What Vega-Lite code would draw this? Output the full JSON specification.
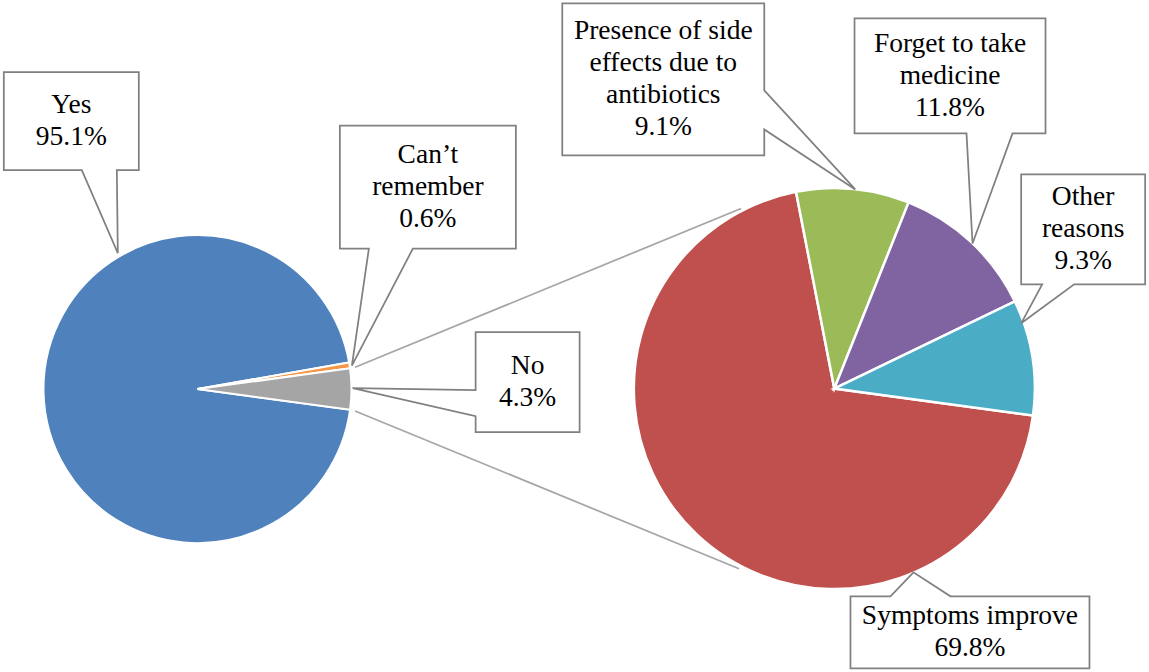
{
  "$schema": "https://vega.github.io/schema/vega-lite/v6.json",
  "width": 1149,
  "height": 672,
  "padding": 0,
  "autosize": {"type": "fit", "contains": "padding"},
  "background": "white",
  "config": {
    "view": {"stroke": null},
    "axis": {"disable": true},
    "font": "'Liberation Serif', 'Times New Roman', 'DejaVu Serif', serif"
  },
  "data": {
    "values": [
      {"pie": "Completed course", "label": "Yes", "value": 0.951},
      {"pie": "Completed course", "label": "Can’t\nremember", "value": 0.006},
      {"pie": "Completed course", "label": "No", "value": 0.043},
      {"pie": "Reason for stopping", "label": "Symptoms improve", "value": 0.698},
      {"pie": "Reason for stopping", "label": "Presence of side\neffects due to\nantibiotics", "value": 0.091},
      {"pie": "Reason for stopping", "label": "Forget to take\nmedicine", "value": 0.118},
      {"pie": "Reason for stopping", "label": "Other\nreasons", "value": 0.093}
    ]
  },
  "transform": [
    {"window": [{"op": "row_number", "as": "rank"}]},
    {"calculate": "datum.label + '\\n' + format(datum.value, '.1%')", "as": "callout"}
  ],
  "layer": [
    {
      "transform": [{"filter": {"field": "pie", "equal": "Completed course"}}],
      "mark": {"type": "arc", "outerRadius": 154, "stroke": "white", "strokeWidth": 2},
      "encoding": {
        "x": {"datum": 197, "type": "quantitative", "scale": {"domain": [0, 1149], "nice": false, "zero": false}, "axis": null},
        "y": {"datum": 390, "type": "quantitative", "scale": {"domain": [0, 672], "nice": false, "zero": false, "reverse": true}, "axis": null},
        "theta": {"field": "value", "type": "quantitative", "stack": true, "scale": {"range": [1.70519, 7.98838]}},
        "order": {"field": "rank", "type": "quantitative"},
        "color": {
          "field": "label",
          "type": "nominal",
          "legend": null,
          "scale": {
            "domain": ["Yes", "Can’t\nremember", "No", "Symptoms improve", "Presence of side\neffects due to\nantibiotics", "Forget to take\nmedicine", "Other\nreasons"],
            "range": ["#4F81BD", "#F79646", "#A5A5A5", "#C0504D", "#9BBB59", "#8064A2", "#4BACC6"]
          }
        }
      }
    },
    {
      "transform": [{"filter": {"field": "pie", "equal": "Reason for stopping"}}],
      "mark": {"type": "arc", "outerRadius": 200.5, "stroke": "white", "strokeWidth": 2.5},
      "encoding": {
        "x": {"datum": 835.5, "type": "quantitative", "axis": null},
        "y": {"datum": 389.5, "type": "quantitative", "axis": null},
        "theta": {"field": "value", "type": "quantitative", "stack": true},
        "order": {"field": "rank", "type": "quantitative"},
        "color": {"field": "label", "type": "nominal", "legend": null}
      }
    },
    {
      "transform": [{"filter": {"field": "label", "equal": "No"}}],
      "mark": {"type": "rule", "color": "#A6A6A6", "strokeWidth": 1.75},
      "encoding": {
        "x": {"datum": 355, "type": "quantitative", "axis": null},
        "y": {"datum": 368, "type": "quantitative", "axis": null},
        "x2": {"datum": 742},
        "y2": {"datum": 208}
      }
    },
    {
      "transform": [{"filter": {"field": "label", "equal": "No"}}],
      "mark": {"type": "rule", "color": "#A6A6A6", "strokeWidth": 1.75},
      "encoding": {
        "x": {"datum": 355, "type": "quantitative", "axis": null},
        "y": {"datum": 412, "type": "quantitative", "axis": null},
        "x2": {"datum": 740},
        "y2": {"datum": 571}
      }
    },
    {
      "transform": [{"filter": {"field": "label", "equal": "Yes"}}],
      "encoding": {
        "x": {"datum": 70.5, "type": "quantitative", "axis": null},
        "y": {"datum": 120, "type": "quantitative", "axis": null}
      },
      "layer": [
        {"mark": {"type": "point", "shape": "M -67.5 -49 L 67.5 -49 L 67.5 49 L 45.5 49 L 46.5 132 L 10.5 49 L -67.5 49 Z", "size": 4, "fill": "white", "stroke": "#808080", "strokeWidth": 1.75, "strokeJoin": "miter", "opacity": 1, "fillOpacity": 1}},
        {"mark": {"type": "text", "font": "'Liberation Serif', 'Times New Roman', 'DejaVu Serif', serif", "align": "center", "baseline": "middle", "dy": -16, "fontSize": 27.5, "lineHeight": 32, "lineBreak": "\n", "color": "black"}, "encoding": {"text": {"field": "callout"}}}
      ]
    },
    {
      "transform": [{"filter": {"field": "label", "equal": "Can’t\nremember"}}],
      "encoding": {
        "x": {"datum": 428, "type": "quantitative", "axis": null},
        "y": {"datum": 186.5, "type": "quantitative", "axis": null}
      },
      "layer": [
        {"mark": {"type": "point", "shape": "M -88 -61.5 L 88 -61.5 L 88 61.5 L -15 61.5 L -76 178.5 L -59 61.5 L -88 61.5 Z", "size": 4, "fill": "white", "stroke": "#808080", "strokeWidth": 1.75, "strokeJoin": "miter", "opacity": 1, "fillOpacity": 1}},
        {"mark": {"type": "text", "font": "'Liberation Serif', 'Times New Roman', 'DejaVu Serif', serif", "align": "center", "baseline": "middle", "dy": -32, "fontSize": 27.5, "lineHeight": 32, "lineBreak": "\n", "color": "black"}, "encoding": {"text": {"field": "callout"}}}
      ]
    },
    {
      "transform": [{"filter": {"field": "label", "equal": "No"}}],
      "encoding": {
        "x": {"datum": 528, "type": "quantitative", "axis": null},
        "y": {"datum": 383, "type": "quantitative", "axis": null}
      },
      "layer": [
        {"mark": {"type": "point", "shape": "M -52 -50 L 52 -50 L 52 50 L -52 50 L -52 34 L -175 6 L -52 8 Z", "size": 4, "fill": "white", "stroke": "#808080", "strokeWidth": 1.75, "strokeJoin": "miter", "opacity": 1, "fillOpacity": 1}},
        {"mark": {"type": "text", "font": "'Liberation Serif', 'Times New Roman', 'DejaVu Serif', serif", "align": "center", "baseline": "middle", "dy": -16, "fontSize": 27.5, "lineHeight": 32, "lineBreak": "\n", "color": "black"}, "encoding": {"text": {"field": "callout"}}}
      ]
    },
    {
      "transform": [{"filter": {"field": "label", "equal": "Presence of side\neffects due to\nantibiotics"}}],
      "encoding": {
        "x": {"datum": 664, "type": "quantitative", "axis": null},
        "y": {"datum": 78, "type": "quantitative", "axis": null}
      },
      "layer": [
        {"mark": {"type": "point", "shape": "M -101 -76 L 101 -76 L 101 11 L 192 110 L 101 50 L 101 76 L -101 76 Z", "size": 4, "fill": "white", "stroke": "#808080", "strokeWidth": 1.75, "strokeJoin": "miter", "opacity": 1, "fillOpacity": 1}},
        {"mark": {"type": "text", "font": "'Liberation Serif', 'Times New Roman', 'DejaVu Serif', serif", "align": "center", "baseline": "middle", "dy": -48, "fontSize": 27.5, "lineHeight": 32, "lineBreak": "\n", "color": "black"}, "encoding": {"text": {"field": "callout"}}}
      ]
    },
    {
      "transform": [{"filter": {"field": "label", "equal": "Forget to take\nmedicine"}}],
      "encoding": {
        "x": {"datum": 951.5, "type": "quantitative", "axis": null},
        "y": {"datum": 74.5, "type": "quantitative", "axis": null}
      },
      "layer": [
        {"mark": {"type": "point", "shape": "M -95.5 -57.5 L 95.5 -57.5 L 95.5 57.5 L 62.5 57.5 L 22.5 167.5 L 16.5 57.5 L -95.5 57.5 Z", "size": 4, "fill": "white", "stroke": "#808080", "strokeWidth": 1.75, "strokeJoin": "miter", "opacity": 1, "fillOpacity": 1}},
        {"mark": {"type": "text", "font": "'Liberation Serif', 'Times New Roman', 'DejaVu Serif', serif", "align": "center", "baseline": "middle", "dy": -32, "fontSize": 27.5, "lineHeight": 32, "lineBreak": "\n", "color": "black"}, "encoding": {"text": {"field": "callout"}}}
      ]
    },
    {
      "transform": [{"filter": {"field": "label", "equal": "Other\nreasons"}}],
      "encoding": {
        "x": {"datum": 1085, "type": "quantitative", "axis": null},
        "y": {"datum": 229, "type": "quantitative", "axis": null}
      },
      "layer": [
        {"mark": {"type": "point", "shape": "M -62 -55 L 62 -55 L 62 55 L -9 55 L -62 94 L -41 55 L -62 55 Z", "size": 4, "fill": "white", "stroke": "#808080", "strokeWidth": 1.75, "strokeJoin": "miter", "opacity": 1, "fillOpacity": 1}},
        {"mark": {"type": "text", "font": "'Liberation Serif', 'Times New Roman', 'DejaVu Serif', serif", "align": "center", "baseline": "middle", "dy": -32, "fontSize": 27.5, "lineHeight": 32, "lineBreak": "\n", "color": "black"}, "encoding": {"text": {"field": "callout"}}}
      ]
    },
    {
      "transform": [{"filter": {"field": "label", "equal": "Symptoms improve"}}],
      "encoding": {
        "x": {"datum": 971.5, "type": "quantitative", "axis": null},
        "y": {"datum": 635, "type": "quantitative", "axis": null}
      },
      "layer": [
        {"mark": {"type": "point", "shape": "M -119.5 -36 L -79.5 -36 L -56.5 -60 L -19.5 -36 L 119.5 -36 L 119.5 36 L -119.5 36 Z", "size": 4, "fill": "white", "stroke": "#808080", "strokeWidth": 1.75, "strokeJoin": "miter", "opacity": 1, "fillOpacity": 1}},
        {"mark": {"type": "text", "font": "'Liberation Serif', 'Times New Roman', 'DejaVu Serif', serif", "align": "center", "baseline": "middle", "dy": -16, "fontSize": 27.5, "lineHeight": 32, "lineBreak": "\n", "color": "black"}, "encoding": {"text": {"field": "callout"}}}
      ]
    }
  ]
}
